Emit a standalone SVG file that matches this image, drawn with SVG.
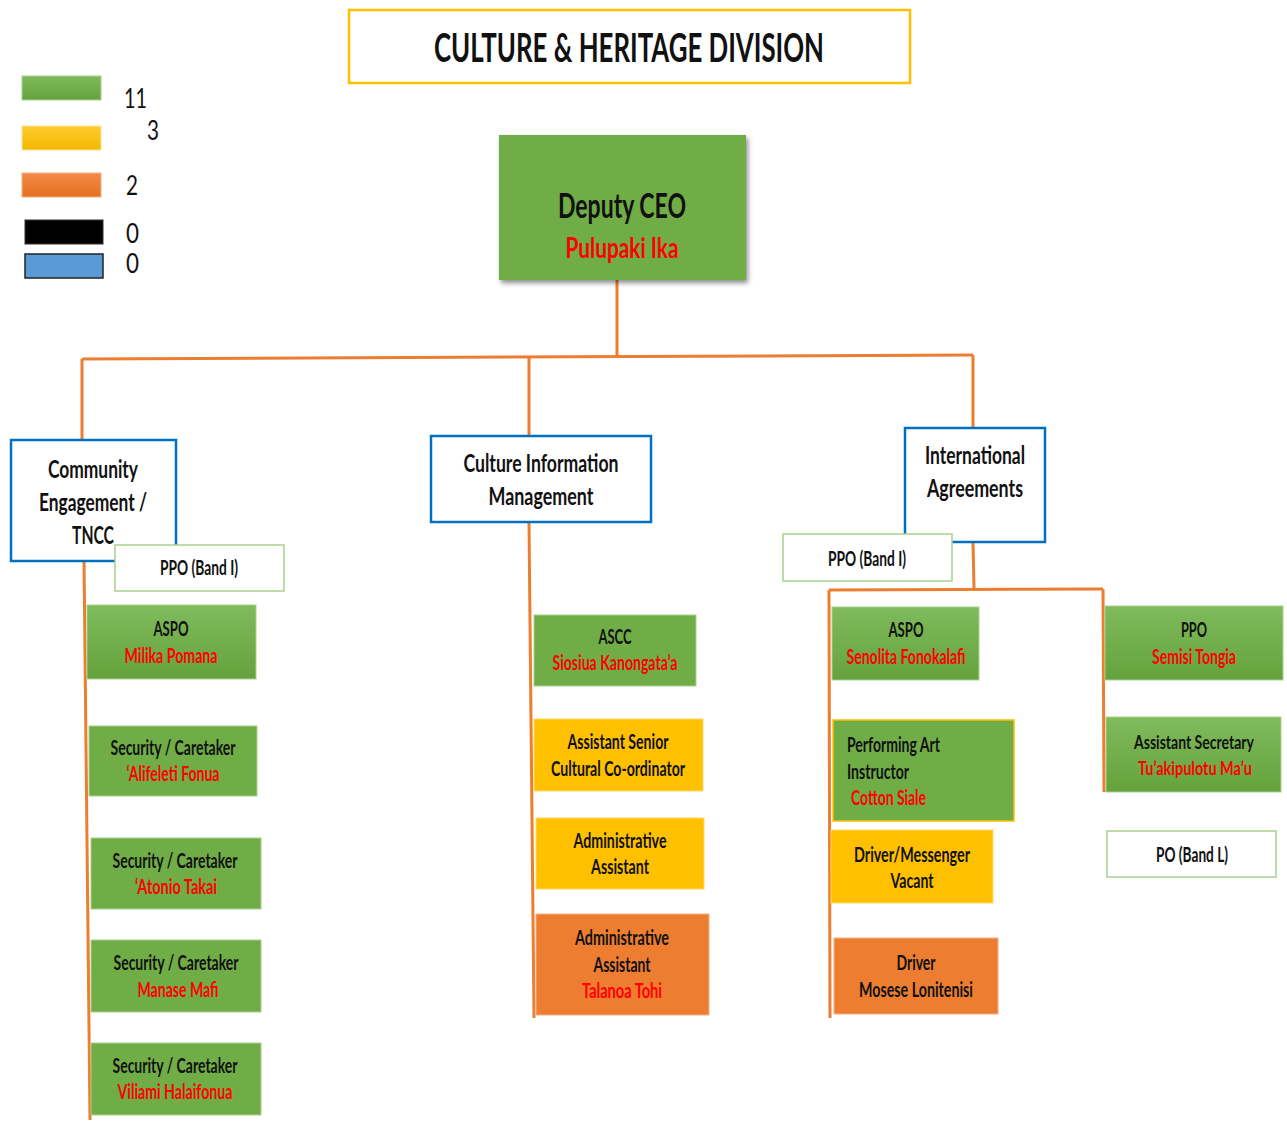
<svg xmlns="http://www.w3.org/2000/svg" width="1287" height="1122" viewBox="0 0 1287 1122">
<defs>
<linearGradient id="gG" x1="0" y1="0" x2="0" y2="1"><stop offset="0" stop-color="#80BB5C"/><stop offset="1" stop-color="#65A23D"/></linearGradient>
<linearGradient id="gY" x1="0" y1="0" x2="0" y2="1"><stop offset="0" stop-color="#FFCB2E"/><stop offset="1" stop-color="#F2B800"/></linearGradient>
<linearGradient id="gO" x1="0" y1="0" x2="0" y2="1"><stop offset="0" stop-color="#F28A48"/><stop offset="1" stop-color="#E5701F"/></linearGradient>
<filter id="sh" x="-10%" y="-10%" width="130%" height="130%"><feDropShadow dx="2" dy="3" stdDeviation="2.5" flood-color="#000" flood-opacity="0.45"/></filter>
<style>
text{font-family:Lato,"Liberation Sans",sans-serif;font-weight:bold;text-anchor:middle;fill:#111}
.s{font-size:20px}
.m{font-size:24px}
.r{fill:#FF0000}
.l{text-anchor:start}
.n{font-size:26px;font-weight:normal}
.green{fill:#70AD47;stroke:#A9D18E;stroke-width:1}
.greeng{fill:url(#gG);stroke:#A9D18E;stroke-width:1}
.yellow{fill:#FFC000;stroke:#FFD966;stroke-width:1}
.orange{fill:#ED7D31;stroke:#F4B183;stroke-width:1}
.blue{fill:#fff;stroke:#0070C0;stroke-width:2.5}
.band{fill:#fff;stroke:#A9D18E;stroke-width:1.5}
.conn{fill:none;stroke:#ED7D31;stroke-width:3}
</style>
</defs>
<rect width="1287" height="1122" fill="#fff"/>

<g id="connectors">
<line class="conn" x1="617" y1="280" x2="617" y2="357"/>
<line class="conn" x1="82" y1="359" x2="973" y2="355"/>
<line class="conn" x1="82" y1="359" x2="82" y2="440"/>
<line class="conn" x1="84" y1="561" x2="90" y2="1120"/>
<line class="conn" x1="529" y1="358" x2="529" y2="436"/>
<line class="conn" x1="529" y1="522" x2="534" y2="1018"/>
<line class="conn" x1="973" y1="355" x2="973" y2="428"/>
<line class="conn" x1="973" y1="542" x2="974" y2="589"/>
<line class="conn" x1="829" y1="590" x2="1103" y2="589"/>
<line class="conn" x1="829" y1="590" x2="830" y2="1018"/>
<line class="conn" x1="1103" y1="589" x2="1104" y2="792"/>
</g>

<g id="title">
<rect x="349" y="10" width="561" height="73" fill="#fff" stroke="#FFC000" stroke-width="2.5"/>
<text x="629" y="62" style="font-size:40px" textLength="390" lengthAdjust="spacingAndGlyphs">CULTURE &amp; HERITAGE DIVISION</text>
</g>

<g id="legend">
<rect x="22" y="76" width="79" height="24" fill="url(#gG)" stroke="#A9D18E"/>
<rect x="22" y="126" width="79" height="24" fill="url(#gY)" stroke="#FFE699"/>
<rect x="22" y="173" width="79" height="24" fill="url(#gO)" stroke="#F4B183"/>
<rect x="25" y="220" width="78" height="24" fill="#000" stroke="#333"/>
<rect x="25" y="254" width="78" height="24" fill="#5B9BD5" stroke="#222" stroke-width="1.5"/>
<text class="l n" x="124" y="108" textLength="23" lengthAdjust="spacingAndGlyphs">11</text>
<text class="l n" x="147" y="140" textLength="12" lengthAdjust="spacingAndGlyphs">3</text>
<text class="l n" x="126" y="195" textLength="12" lengthAdjust="spacingAndGlyphs">2</text>
<text class="l n" x="126" y="243" textLength="13" lengthAdjust="spacingAndGlyphs">0</text>
<text class="l n" x="126" y="273" textLength="13" lengthAdjust="spacingAndGlyphs">0</text>
</g>

<g id="deputy-ceo">
<rect x="499" y="135" width="247" height="145" fill="#70AD47" filter="url(#sh)"/>
<text x="622" y="218" style="font-size:34px" textLength="128" lengthAdjust="spacingAndGlyphs">Deputy CEO</text>
<text class="r" x="622" y="258" style="font-size:29px" textLength="113" lengthAdjust="spacingAndGlyphs">Pulupaki Ika</text>
</g>

<g id="community">
<rect class="blue" x="11" y="440" width="165" height="121"/>
<text class="m" x="93" y="478" textLength="90" lengthAdjust="spacingAndGlyphs">Community</text>
<text class="m" x="93" y="511" textLength="108" lengthAdjust="spacingAndGlyphs">Engagement /</text>
<text class="m" x="93" y="544" textLength="42" lengthAdjust="spacingAndGlyphs">TNCC</text>
</g>
<g id="ppo-band-i-1">
<rect class="band" x="115" y="545" width="169" height="46"/>
<text class="s" x="199" y="575" textLength="78" lengthAdjust="spacingAndGlyphs">PPO (Band I)</text>
</g>
<g id="aspo-milika">
<rect class="greeng" x="87" y="605" width="169" height="74"/>
<text class="s" x="171" y="636" textLength="35" lengthAdjust="spacingAndGlyphs">ASPO</text>
<text class="s r" x="171" y="663" textLength="93" lengthAdjust="spacingAndGlyphs">Milika Pomana</text>
</g>
<g id="security-1">
<rect class="green" x="89" y="726" width="168" height="70"/>
<text class="s" x="173" y="755" textLength="125" lengthAdjust="spacingAndGlyphs">Security / Caretaker</text>
<text class="s r" x="173" y="781" textLength="93" lengthAdjust="spacingAndGlyphs">‘Alifeleti Fonua</text>
</g>
<g id="security-2">
<rect class="green" x="91" y="838" width="170" height="71"/>
<text class="s" x="175" y="868" textLength="125" lengthAdjust="spacingAndGlyphs">Security / Caretaker</text>
<text class="s r" x="176" y="894" textLength="82" lengthAdjust="spacingAndGlyphs">‘Atonio Takai</text>
</g>
<g id="security-3">
<rect class="green" x="91" y="940" width="170" height="72"/>
<text class="s" x="176" y="970" textLength="125" lengthAdjust="spacingAndGlyphs">Security / Caretaker</text>
<text class="s r" x="178" y="997" textLength="81" lengthAdjust="spacingAndGlyphs">Manase Mafi</text>
</g>
<g id="security-4">
<rect class="green" x="91" y="1043" width="170" height="72"/>
<text class="s" x="175" y="1073" textLength="125" lengthAdjust="spacingAndGlyphs">Security / Caretaker</text>
<text class="s r" x="175" y="1099" textLength="115" lengthAdjust="spacingAndGlyphs">Viliami Halaifonua</text>
</g>

<g id="culture-info">
<rect class="blue" x="431" y="436" width="220" height="86"/>
<text class="m" x="541" y="472" textLength="155" lengthAdjust="spacingAndGlyphs">Culture Information</text>
<text class="m" x="541" y="505" textLength="105" lengthAdjust="spacingAndGlyphs">Management</text>
</g>
<g id="ascc">
<rect class="green" x="534" y="615" width="162" height="71"/>
<text class="s" x="615" y="644" textLength="33" lengthAdjust="spacingAndGlyphs">ASCC</text>
<text class="s r" x="615" y="670" textLength="125" lengthAdjust="spacingAndGlyphs">Siosiua Kanongata’a</text>
</g>
<g id="asst-senior">
<rect class="yellow" x="534" y="719" width="169" height="72"/>
<text class="s" x="618" y="749" textLength="101" lengthAdjust="spacingAndGlyphs">Assistant Senior</text>
<text class="s" x="618" y="776" textLength="134" lengthAdjust="spacingAndGlyphs">Cultural Co-ordinator</text>
</g>
<g id="admin-assistant-1">
<rect class="yellow" x="536" y="818" width="168" height="71"/>
<text class="s" x="620" y="848" textLength="93" lengthAdjust="spacingAndGlyphs">Administrative</text>
<text class="s" x="620" y="874" textLength="58" lengthAdjust="spacingAndGlyphs">Assistant</text>
</g>
<g id="admin-assistant-2">
<rect class="orange" x="536" y="914" width="173" height="101"/>
<text class="s" x="622" y="945" textLength="94" lengthAdjust="spacingAndGlyphs">Administrative</text>
<text class="s" x="622" y="972" textLength="57" lengthAdjust="spacingAndGlyphs">Assistant</text>
<text class="s r" x="622" y="998" textLength="80" lengthAdjust="spacingAndGlyphs">Talanoa Tohi</text>
</g>

<g id="international">
<rect class="blue" x="905" y="428" width="140" height="114"/>
<text class="m" x="975" y="464" textLength="100" lengthAdjust="spacingAndGlyphs">International</text>
<text class="m" x="975" y="497" textLength="96" lengthAdjust="spacingAndGlyphs">Agreements</text>
</g>
<g id="ppo-band-i-2">
<rect class="band" x="783" y="534" width="169" height="47"/>
<text class="s" x="867" y="566" textLength="78" lengthAdjust="spacingAndGlyphs">PPO (Band I)</text>
</g>
<g id="aspo-senolita">
<rect class="greeng" x="832" y="607" width="147" height="73"/>
<text class="s" x="906" y="637" textLength="35" lengthAdjust="spacingAndGlyphs">ASPO</text>
<text class="s r" x="906" y="664" textLength="119" lengthAdjust="spacingAndGlyphs">Senolita Fonokalafi</text>
</g>
<g id="performing-art">
<rect x="833" y="720" width="181" height="101" fill="#70AD47" stroke="#FFC000" stroke-width="1.5"/>
<text class="s l" x="847" y="752" textLength="93" lengthAdjust="spacingAndGlyphs">Performing Art</text>
<text class="s l" x="847" y="779" textLength="62" lengthAdjust="spacingAndGlyphs">Instructor</text>
<text class="s l r" x="851" y="805" textLength="75" lengthAdjust="spacingAndGlyphs">Cotton Siale</text>
</g>
<g id="driver-messenger">
<rect class="yellow" x="831" y="830" width="162" height="73"/>
<text class="s" x="912" y="862" textLength="116" lengthAdjust="spacingAndGlyphs">Driver/Messenger</text>
<text class="s" x="912" y="888" textLength="43" lengthAdjust="spacingAndGlyphs">Vacant</text>
</g>
<g id="driver">
<rect class="orange" x="834" y="938" width="164" height="76"/>
<text class="s" x="916" y="970" textLength="39" lengthAdjust="spacingAndGlyphs">Driver</text>
<text class="s" x="916" y="997" textLength="114" lengthAdjust="spacingAndGlyphs">Mosese Lonitenisi</text>
</g>
<g id="ppo-semisi">
<rect class="greeng" x="1105" y="606" width="178" height="74"/>
<text class="s" x="1194" y="637" textLength="26" lengthAdjust="spacingAndGlyphs">PPO</text>
<text class="s r" x="1194" y="664" textLength="84" lengthAdjust="spacingAndGlyphs">Semisi Tongia</text>
</g>
<g id="asst-secretary">
<rect class="greeng" x="1106" y="717" width="175" height="75"/>
<text x="1194" y="749" style="font-size:18px" textLength="120" lengthAdjust="spacingAndGlyphs">Assistant Secretary</text>
<text class="r" x="1195" y="775" style="font-size:18px" textLength="114" lengthAdjust="spacingAndGlyphs">Tu’akipulotu Ma’u</text>
</g>
<g id="po-band-l">
<rect class="band" x="1107" y="831" width="169" height="46"/>
<text class="s" x="1192" y="862" textLength="72" lengthAdjust="spacingAndGlyphs">PO (Band L)</text>
</g>
</svg>
